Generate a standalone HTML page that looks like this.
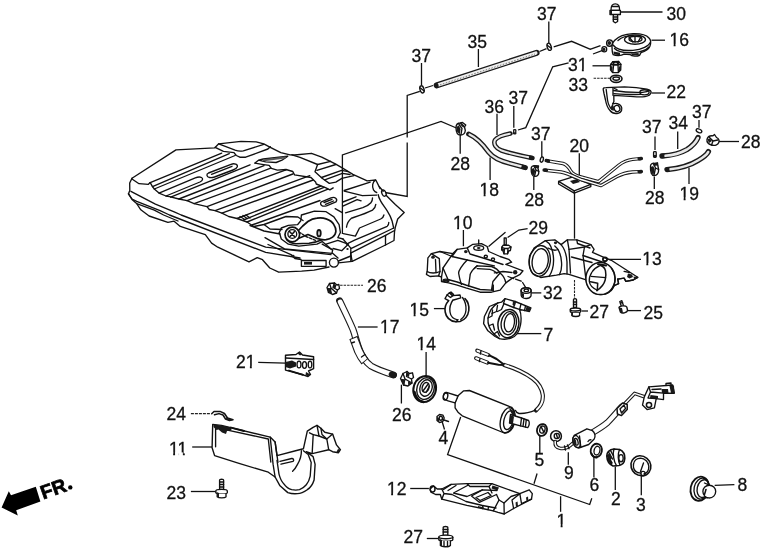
<!DOCTYPE html>
<html><head><meta charset="utf-8">
<style>
html,body{margin:0;padding:0;background:#fff;}
body{width:769px;height:554px;overflow:hidden;position:relative;}
svg{position:absolute;left:0;top:0;filter:grayscale(1) blur(0.35px);}
text{font-family:"Liberation Sans",sans-serif;font-size:17.5px;fill:#111;stroke:#111;stroke-width:0.3px;}
.l{stroke:#111;stroke-width:1.3;fill:none;}
.p{stroke:#111;stroke-width:1.35;fill:none;stroke-linejoin:round;stroke-linecap:round;}
.pw{stroke:#111;stroke-width:1.35;fill:#fff;stroke-linejoin:round;stroke-linecap:round;}
.d{stroke:#222;stroke-width:1;fill:none;stroke-dasharray:14 2 2 2;}
.dt{stroke:#222;stroke-width:1.1;fill:none;stroke-dasharray:2.5 1;}
.k{fill:#1a1a1a;stroke:none;}
</style></head><body>
<svg width="769" height="554" viewBox="0 0 769 554">
<!--LABELS-->
<g id="labels">
<text x="666.5" y="19.5">30</text>
<text x="669.5" y="46">16</text>
<text x="666.5" y="97.5">22</text>
<text x="568" y="71">31</text>
<text x="568.5" y="90.5">33</text>
<text x="537" y="19.5">37</text>
<text x="467.5" y="48">35</text>
<text x="411.5" y="61.5">37</text>
<text x="484.5" y="112.5">36</text>
<text x="508.5" y="103.5">37</text>
<text x="531" y="139.5">37</text>
<text x="569.5" y="151.5">20</text>
<text x="450.5" y="169.5">28</text>
<text x="479.5" y="196">18</text>
<text x="524.5" y="206">28</text>
<text x="642" y="133">37</text>
<text x="668.5" y="128.7">34</text>
<text x="692" y="118">37</text>
<text x="741" y="147.5">28</text>
<text x="645" y="204">28</text>
<text x="679.5" y="199.5">19</text>
<text x="453" y="229">10</text>
<text x="528.5" y="233.5">29</text>
<text x="642.2" y="265">13</text>
<text x="543" y="298.5">32</text>
<text x="589.5" y="317.5">27</text>
<text x="643.5" y="318.5">25</text>
<text x="409.5" y="316">15</text>
<text x="543.5" y="341">7</text>
<text x="367" y="291.5">26</text>
<text x="380" y="332.5">17</text>
<text x="416.5" y="350">14</text>
<text x="236" y="368">21</text>
<text x="392" y="420.5">26</text>
<text x="438.5" y="444">4</text>
<text x="166.5" y="420">24</text>
<text x="169" y="454.5">11</text>
<text x="166.5" y="498.5">23</text>
<text x="387" y="495">12</text>
<text x="403.5" y="543">27</text>
<text x="534.5" y="466">5</text>
<text x="564" y="479">9</text>
<text x="589.5" y="491">6</text>
<text x="611" y="505">2</text>
<text x="636" y="510.5">3</text>
<text x="737.5" y="491">8</text>
<text x="556.5" y="526.5">1</text>
</g>
<g id="footmask" fill="#fff" stroke="none">
<rect x="669.80" y="43.90" width="3.85" height="3.8"/>
<rect x="675.55" y="43.90" width="3.6" height="3.8"/>
<rect x="578.03" y="68.90" width="3.85" height="3.8"/>
<rect x="583.78" y="68.90" width="3.6" height="3.8"/>
<rect x="479.80" y="193.90" width="3.85" height="3.8"/>
<rect x="485.55" y="193.90" width="3.6" height="3.8"/>
<rect x="679.80" y="197.40" width="3.85" height="3.8"/>
<rect x="685.55" y="197.40" width="3.6" height="3.8"/>
<rect x="453.30" y="226.90" width="3.85" height="3.8"/>
<rect x="459.05" y="226.90" width="3.6" height="3.8"/>
<rect x="642.50" y="262.90" width="3.85" height="3.8"/>
<rect x="648.25" y="262.90" width="3.6" height="3.8"/>
<rect x="409.80" y="313.90" width="3.85" height="3.8"/>
<rect x="415.55" y="313.90" width="3.6" height="3.8"/>
<rect x="380.30" y="330.40" width="3.85" height="3.8"/>
<rect x="386.05" y="330.40" width="3.6" height="3.8"/>
<rect x="416.80" y="347.90" width="3.85" height="3.8"/>
<rect x="422.55" y="347.90" width="3.6" height="3.8"/>
<rect x="246.03" y="365.90" width="3.85" height="3.8"/>
<rect x="251.78" y="365.90" width="3.6" height="3.8"/>
<rect x="169.30" y="452.40" width="3.85" height="3.8"/>
<rect x="175.05" y="452.40" width="3.6" height="3.8"/>
<rect x="179.03" y="452.40" width="3.85" height="3.8"/>
<rect x="184.78" y="452.40" width="3.6" height="3.8"/>
<rect x="387.30" y="492.90" width="3.85" height="3.8"/>
<rect x="393.05" y="492.90" width="3.6" height="3.8"/>
<rect x="556.80" y="524.40" width="3.85" height="3.8"/>
<rect x="562.55" y="524.40" width="3.6" height="3.8"/>
</g>
<!--LEADERS-->
<g id="leaders" class="l">
<path d="M620 12H662.5"/>
<path d="M651.5 40.2H665"/>
<path d="M592.5 65.8H610"/>
<path d="M651.5 93H665"/>
<path d="M548.8 21.5V43.5"/>
<path d="M478.4 49V67"/>
<path d="M421.5 63V85"/>
<path d="M497 113.7V135"/>
<path d="M513.8 106V127.8"/>
<path d="M541.8 141.2V157"/>
<path d="M579.3 153.3V179.3"/>
<path d="M460.2 135V153.7"/>
<path d="M490.1 157.4V180"/>
<path d="M533.8 176.2V190"/>
<path d="M655 136.4V150"/>
<path d="M677.7 131.4V149"/>
<path d="M699 120V127.7"/>
<path d="M719 141.5H739"/>
<path d="M654.3 176.6V189"/>
<path d="M689 167.8V184"/>
<path d="M463.4 230V246.2"/>
<path d="M527.6 228.7L518.8 230L507.6 237.5"/>
<path d="M607.4 259.4H641"/>
<path d="M531.3 292.9H541.3"/>
<path d="M581.5 311H588"/>
<path d="M627.4 310.6H641"/>
<path d="M433.9 308.6H445.2"/>
<path d="M513.8 333.6H541.3"/>
<path d="M357.9 327H377.6"/>
<path d="M426.1 352V377"/>
<path d="M258.2 362.3L285.5 363.1"/>
<path d="M401.4 384.7V403.5"/>
<path d="M441.5 419.5L444.5 429.5"/>
<path d="M192.2 447H212"/>
<path d="M190.9 491.5H215.7"/>
<path d="M410.2 488.5H428.9"/>
<path d="M426.8 538.5H438.3"/>
<path d="M539.8 435.5V453.2"/>
<path d="M568.3 452.2V464.7"/>
<path d="M593.9 456.5V477.5"/>
<path d="M615.3 466.5V490"/>
<path d="M641.3 475.4V495.2"/>
<path d="M714.7 485.3L734.4 484.7"/>
<path d="M560.6 496.2V511.8"/>
<path d="M460.7 417L447.6 454.6L589.7 504.5L591.8 498.3"/>
<path d="M534 483.7L537.1 473.5"/>
</g>
<g class="dt">
<path d="M593.6 78.3H610"/>
<path d="M340.1 285.3H363"/>
<path d="M190.9 413.6H210.7" style="stroke-dasharray:3 1;stroke:#222"/>
</g>
<!--PARTS-->
<!--B:g1-->
<g id="g1">
<!-- bolt 30 -->
<path class="pw" d="M611 10.5C610.8 6 612.5 3.8 615.3 3.8C618.2 3.8 619.8 6 619.6 10.5Z"/>
<path class="pw" d="M610 10.3H620.4V14.5H610Z"/>
<path class="pw" d="M613.3 14.6H617.6V21.5L615.5 22.8L613.3 21.5Z"/>
<path class="p" d="M613.3 17H617.6M613.3 19.2H617.6M612.5 6.5H618.5"/>
<rect class="k" x="610" y="11" width="2" height="3.5"/>
<!-- lines into 16 -->
<path class="l" d="M553.7 46.9L571.6 41.3L590.5 49.3"/>
<path class="l" d="M590 49.4L600.5 45.7M593 54L602.6 50.3"/>
<!-- part 16 -->
<ellipse class="pw" cx="604.3" cy="49.2" rx="2.4" ry="2.6"/>
<ellipse class="pw" cx="609.6" cy="43" rx="3" ry="3.2"/>
<ellipse class="k" cx="604" cy="49.4" rx="1.4" ry="1.6"/>
<ellipse class="k" cx="609.3" cy="43" rx="1.8" ry="2"/>
<path class="pw" d="M612 46C612 50 612.3 53 613.2 54.6C616 56 621 56 624 54.2L630 54.6C632 56.5 637 56.6 639.5 55.4L641 52.6C645 51.5 648.5 49.5 649.8 46.5C651.2 43 651 40 649 38C646 34.5 640 33.4 633 33.6C625 34 618 36.8 614.5 40.5C612.8 42.3 612 44 612 46Z"/>
<path class="p" d="M613 45C616 49 624 51 633 50.3C642 49.6 649 46 650.5 42"/>
<path class="p" d="M614.5 48.5C618 52 626 53.2 634 52.6C641 52 646.5 49.8 649 47"/>
<ellipse class="p" cx="635" cy="39.6" rx="10.5" ry="4.6"/>
<ellipse class="p" cx="635.5" cy="39" rx="6.5" ry="2.8"/>
<path class="p" d="M629 37L633 42M641 36.8L638 42M635 36.5V42"/>
<path class="p" d="M618 40.5C622 37 628 35.5 633 35.4"/>
<path class="k" d="M613.5 51.5L620 52.8L620 55.2L614 54.6Z"/>
<path class="k" d="M631 53.4L638.5 53L639 55.2L632 55.6Z"/>
<!-- nut 31 -->
<path class="pw" d="M610.6 64.5L612.8 61.6L618.6 61.4L620.9 64.3L620.7 70L618.3 72.6L612.6 72.6L610.5 69.8Z"/>
<path class="p" d="M612.8 61.6L613.6 65L618 65L618.6 61.4M613.6 65L612.8 72.4M618 65L618.4 72.4M610.6 64.5L613.6 65M620.9 64.3L618 65"/>
<ellipse class="p" cx="615.7" cy="63.2" rx="2.2" ry="1.2"/>
<path class="k" d="M610.6 66L612.6 66.5L612.4 72L610.6 69.8Z"/>
<path class="k" d="M619 66.5L620.8 66L620.6 70L618.9 72Z"/>
<!-- washer 33 -->
<ellipse class="pw" cx="616.2" cy="78.8" rx="5.8" ry="3.6" style="stroke-width:1.6"/>
<ellipse class="p" cx="616.2" cy="78.6" rx="3.3" ry="1.6" style="stroke-width:1.4"/>
<!-- bracket 22 -->
<path class="pw" d="M603.2 89.3C603 88 604.5 87.6 606 87.6L624.5 86.9C633 87.2 642 88.3 647 89.2C650 89.8 651.4 91.2 651 92.6C650.5 95 648.5 96 645 96.6C640 97.4 636 96.8 630 96.4L613.8 95.4L613.9 101.5L612.5 104.2C615.5 102.5 619.5 103.5 621.2 106.3C622.8 109.2 621.5 112.6 618 113.3C614.5 114 611.5 112.5 610 110.5C607.5 108 606.2 104 605.5 100L604 93.5Z"/>
<path class="p" d="M606.2 89.5L607.5 100C608.2 104 609.5 107 611.5 109"/>
<path class="p" d="M613.5 90.5C622 91.8 634 92.6 642.5 92.3C646.5 92 648.5 91.2 649.5 90.5"/>
<path class="p" d="M613.8 93.6C622 94.2 634 94.8 641 94.4"/>
<ellipse class="p" cx="644.5" cy="92.3" rx="4.6" ry="2.6"/>
<path class="p" d="M613 88V95.3M614.5 88.5L617 89.6"/>
<ellipse class="p" cx="617" cy="108.5" rx="2.8" ry="3.2" transform="rotate(-30 617 108.5)"/>
<path class="k" d="M612.5 104.5C614 106 614.5 109 613.5 111L611 109.5C610.5 107.5 611 105.5 612.5 104.5Z"/>
</g>
<!--E:g1-->
<!--B:g2-->
<g id="g2">
<!-- dash-dot lines -->
<path class="l" d="M419.8 91.3L407.2 95.5V137.5M407.2 142.5V196.4L385 192.5"/>
<path class="l" d="M425 88L433 85.5"/>
<path class="l" d="M539.5 51.5L546.5 48.6"/>
<path class="l" d="M568.6 62.8L552.7 66.8L525.8 127.6L518 130"/>
<path class="l" d="M456.4 128L441 121.5L342.4 155V234"/>
<!-- tube 35 -->
<path d="M436.6 85.4L536.6 52.8" stroke="#1a1a1a" stroke-width="6" stroke-linecap="round" fill="none"/>
<path d="M438.4 84.9L535.8 53.1" stroke="#eee" stroke-width="3.4" stroke-linecap="round" fill="none"/>
<path d="M440 84.9L535 54" stroke="#666" stroke-width="0.9" stroke-dasharray="1.5 1.5" fill="none"/>
<ellipse class="k" cx="436.8" cy="85.4" rx="1.8" ry="2.6" transform="rotate(-18 436.8 85.4)"/>
<!-- clips 37 top -->
<ellipse class="pw" cx="549.2" cy="46.8" rx="2" ry="3.7" transform="rotate(-18 549.2 46.8)"/>
<ellipse class="pw" cx="422" cy="89.4" rx="2" ry="3.7" transform="rotate(-18 422 89.4)"/>
<path class="p" d="M547.6 45.5L550.8 48M420.4 88L423.6 90.6"/>
<!-- hose 18 -->
<path id="h18" d="M468.6 134C476.5 137.5 482 143 488.5 152C493 158 500 161 510.6 163.6L525.4 167.6" stroke="#1a1a1a" stroke-width="5" stroke-linecap="round" fill="none"/>
<path d="M469.5 134.5C476.5 137.8 482 143 488.5 152C493 158 500 161 510.6 163.6L521 166.4" stroke="#e8e8e8" stroke-width="2.2" stroke-linecap="round" fill="none"/>
<path d="M521.5 166.6L525.6 167.7" stroke="#1a1a1a" stroke-width="4.4" fill="none"/>
<!-- hose 36 -->
<path d="M510.4 133.5C503 135 497.5 136.5 495 140C493 144 496 148.5 501.5 150.5C510 153.5 520 155.5 532.4 158" stroke="#1a1a1a" stroke-width="4.6" stroke-linecap="round" fill="none"/>
<path d="M509.8 133.7C503 135 497.5 136.5 495 140C493 144 496 148.5 501.5 150.5C510 153.5 520 155.5 528.6 157.2" stroke="#e8e8e8" stroke-width="2" stroke-linecap="round" fill="none"/>
<path d="M529 157.3L532.6 158" stroke="#1a1a1a" stroke-width="4" fill="none"/>
<!-- clip 37 mid (small) -->
<rect class="k" x="513" y="129" width="3.4" height="5.4" rx="1.2"/>
<rect x="514" y="130.3" width="1.2" height="2" fill="#aaa"/>
<ellipse class="pw" cx="541.8" cy="159.6" rx="1.5" ry="2.7" transform="rotate(15 541.8 159.6)"/>
<!-- clip 28 left -->
<path class="pw" d="M456 127.5C456 124.5 458 123 460.5 123L462.5 122.5L465.8 125L464.5 127L465.3 130.5C465 133.5 463 135 460.5 135C457.5 135 456 132 456 127.5Z"/>
<path class="p" d="M460.5 123L463.5 126.5L464.5 127M459 124.5L462 128.5L461 134.5"/>
<path class="k" d="M461 123L464.5 125.5L463.5 127.5L460.5 125Z"/><path class="k" d="M456.3 127L458.8 125.5L460.6 129L459.8 134.2L457.2 132Z"/>
<!-- clip 28 mid -->
<path class="pw" d="M531.2 168.5C531 166.5 533 165.5 535 165.6L538.5 166L538 168.5L538.8 171.5C539 174.5 537.5 176.4 535 176.4C532.5 176.4 531 174 531.2 168.5Z"/>
<path class="p" d="M534 166L536 170L534.5 176M536 170L538.8 171.5"/>
<path class="k" d="M533.5 165.6L538.5 166L537.8 168.5L534 167.8Z"/><path class="k" d="M531.4 169L533.8 168L535.2 171L534.2 175.8L532 174Z"/>
<!-- tubes 20 -->
<g fill="none" stroke-linecap="round" stroke-linejoin="round">
<path d="M558.6 181.4L572.2 177.2L590.8 184.4L574.2 190.8Z" class="pw"/>
<path d="M558.6 181.4V184L574.2 193.2L590.8 186.6V184.4M574.2 190.8V193.2" class="p"/>
<path d="M547.5 160.8L563 163.5C567 164.5 568.5 167 570.5 170.5C572.5 174 576 175.6 581 177L598.5 181.6L619 165C623 162 628 160 632.5 159.4L640.5 158.6" stroke="#1a1a1a" stroke-width="3.4"/>
<path d="M549.5 161.2L563 163.5C567 164.5 568.5 167 570.5 170.5C572.5 174 576 175.6 581 177L598.5 181.6L619 165C623 162 628 160 632.5 159.4L638.6 158.8" stroke="#fff" stroke-width="1.4"/>
<path d="M545.4 170.2L561 172C568 173.5 574 176.5 581 179.5L601 185.6L617 176.5C622 173.8 628 172.4 632.5 172L640.5 171.6" stroke="#1a1a1a" stroke-width="3.4"/>
<path d="M547.4 170.5L561 172C568 173.5 574 176.5 581 179.5L601 185.6L617 176.5C622 173.8 628 172.4 632.5 172L638.6 171.7" stroke="#fff" stroke-width="1.4"/>
<path d="M546.3 160.6L548.4 161M639.2 158.7L641.3 158.5M544.2 170L546.3 170.3M639.2 171.7L641.3 171.6" stroke="#1a1a1a" stroke-width="3.6"/>
</g>
<path class="k" d="M570 181L577 179L580 182L573 184Z"/>
<path class="l" d="M574.5 193V238.7"/>
<path class="dt" d="M574.5 280V298.5"/>
<!-- right clips/hoses -->
<rect class="pw" x="653.6" y="151.6" width="2.6" height="5.8" rx="0.8"/>
<rect class="k" x="653.8" y="155" width="2.4" height="2.4"/>
<path d="M662 156C671 155.5 680 153.5 687 149.5C692.5 146 696 142.5 698 137.6" stroke="#1a1a1a" stroke-width="5.4" stroke-linecap="round" fill="none"/>
<path d="M665 155.8C672 155.3 680 153.5 687 149.5C692.5 146 696 142.5 697.9 138" stroke="#e8e8e8" stroke-width="2.6" stroke-linecap="round" fill="none"/>
<path d="M661.4 156L664.4 155.9" stroke="#1a1a1a" stroke-width="4.6" fill="none"/>
<path d="M667 169.6C678 168.5 690 165.5 698 160.5C704 157 707 154.5 708.4 151.6" stroke="#1a1a1a" stroke-width="5.4" stroke-linecap="round" fill="none"/>
<path d="M670 169.3C679 168.3 690 165.5 698 160.5C704 157 707 154.5 708.2 152" stroke="#e8e8e8" stroke-width="2.6" stroke-linecap="round" fill="none"/>
<path d="M666.4 169.7L669.4 169.4" stroke="#1a1a1a" stroke-width="4.6" fill="none"/>
<ellipse class="pw" cx="699" cy="130.8" rx="3" ry="1.7" transform="rotate(25 699 130.8)"/>
<!-- clip 28 right -->
<path class="pw" d="M707 139.5C707.5 137 710 135.5 713 135.8L714.5 134.5L716.5 137.5C718.5 138.5 719.5 140.5 718.8 142.5C718 145 714.5 146 711.5 145C708.5 144 706.6 142 707 139.5Z"/>
<path class="p" d="M709.5 137.5L713 141L717.8 140M713 141L711.5 145"/>
<path class="k" d="M707.3 139L710 138.5L712 141L709 143Z"/>
<!-- clip 28 bottom right -->
<path class="pw" d="M650.5 166C650.5 164 652.5 163 654.5 163.3L657.5 162.8L657.8 165.5L658.6 169.5C658.8 173 657 175.6 654.3 175.6C651.6 175.6 650.2 172.5 650.5 166Z"/>
<path class="p" d="M653.5 163.5L655.5 168L654 175M655.5 168L658.6 169.5"/>
<path class="k" d="M652.5 163.2L657.5 162.8L657.6 165.5L653.8 166Z"/><path class="k" d="M650.7 167L653.2 166L654.6 169L653.6 174.8L651.2 173Z"/>
</g>
<!--E:g2-->
<!--B:tank-->
<g id="tank" class="p">
<!-- outer silhouette -->
<path d="M132 178.2L176 149.9L214.6 147.9L218.7 143.8L241 141.4L256.2 141.8L263.8 143.8L270.3 147.3L280.8 152.6L290 154.9L294.5 155L311.5 153.3L321.7 157.1L335.3 163.9L342.2 167.9L352.9 174.3L367.2 180.8L375.8 180L380.1 188.6"/>
<path d="M386.3 195.4L395.3 204.4L404.2 212.5L397.7 219L395.3 227.2L394.5 232L394 240.5L385.5 245L352.2 261.3L338.5 262.8"/>
<path d="M329 267L314.1 270.1L301.6 271.1L278.7 272.2L269.8 268L262.5 259.7L257.3 257.6L249 261.8L217.8 247.2L211.6 243.1L205.3 234.7L199.1 232.7L180.3 226.4L174.1 221.2L167.9 222.3L149.1 216L140.8 209.8L136.6 203.5L132 199.4L128.4 194L129.8 190.5L129.7 183L132 178.2"/>
<!-- left corner top edge -->
<path d="M132 179L139 183.7L148.4 184.3L150.2 182.6"/>
<!-- flange lines -->
<path d="M130.9 191.3L155.4 204.2L174.2 211.8L181.2 215L265.7 247.2L331 254.6"/>
<path d="M128.5 193.7L132 199L136.7 201.3L160.1 210.7L169.5 215L265.7 252.4L300 258"/>
<path d="M136.7 203.6L154.3 210.1L163.6 215L178 221"/>
<!-- raised block -->
<path d="M218.7 143.8L235.1 150.2C238 151.2 240.5 151.4 243.3 150.8L263.8 144.4"/>
<path d="M215.2 147.3L223.4 151.4L234 152.6L236.3 155.5L239.8 157.2L245.7 157.2L267.9 149L270.3 146.7"/>
<!-- ribs -->
<path d="M150.2 182.6L221.7 153.1"/>
<path d="M152.5 186.7L229.3 153.7"/>
<path d="M154.3 189L235.1 155.5"/>
<path d="M159 193.1L195.3 177.9C198 176.8 200 176.8 201.5 177.5C203.2 178.5 203 180.5 199.9 182L166 196"/>
<path d="M170.7 197.2L250 164.8"/>
<path d="M178.9 199L264 165.6"/>
<path d="M187.1 200.7L270.7 168.1"/>
<path d="M194.1 203.6L286 169.8"/>
<path d="M207 206.6L292.8 174"/>
<path d="M215.1 210.6L309.8 175.7"/>
<path d="M221.9 213.1L313.2 180"/>
<path d="M237.1 218.5L320.8 186"/>
<path d="M243.6 220L324 187.3"/>
<path d="M247 222L328 189.2"/>
<path d="M252 225L320 200.5"/>
<!-- slots -->
<path d="M208.5 173L231 164.3C234.5 163 238 164.5 237.3 166.8C236.8 168.3 235 169.2 233 170L214.5 177C211 178.2 207.5 177.6 207 175.6C206.7 174.4 207.3 173.5 208.5 173Z"/>
<path d="M211.5 174.3L232 166.3"/>
<path d="M321.5 201.8L331 197.8C335 196.5 338 199 336 201.8L326.5 205.8C322 207.2 319 204 321.5 201.8Z"/><path d="M324 202.5L332 199.3M325.5 204.3L333.5 201"/>
<!-- near edge zigzag -->
<path d="M150.2 182.6L152.5 186.7L154.3 189L159 193.1L166 196L169.5 196.6L178.9 199L187.1 200.7L194.1 203.6L207 206.6L209.3 209.5L215.1 210.6L221.9 213.1L228.7 216.5L237.1 218.5L247 222L253.8 226.5L264 224.5L286 216.5L297.9 217L303 220.5"/>
<!-- far wavy edge + pocket -->
<path d="M255 163.1L258.5 160.2L263.2 159L287.8 156.1L282 160.2L276.1 162.5L265.6 161.9L258.5 160.2"/>
<path d="M264 160.3L285 157.6" style="stroke-width:2;stroke:#555"/>
<path d="M255 163.1L262 164.3L269.1 165.4L271.4 168.4L277.3 170.1L286 169.5L292.8 171.5L294.5 174.9L311 177.5L315.6 182.1L316.3 184L326 187.9L329.9 189.9L333.2 187.9"/>
<!-- right section ribs -->
<path d="M292 154.8L300 157.4L317.6 164.5L315 171.7L322.1 178.2L329.3 183.4L335.8 182.1L342.3 178.2"/>
<path d="M317.6 164.5L330.6 161.3"/>
<path d="M316.9 170.4L335.8 164.5"/>
<path d="M321.5 177.5L341.6 170.4L348.1 171.7"/>
<path d="M324.7 179.8L342.3 173.4L350 174.5"/>
<path d="M342.9 178.2L354 175.6"/>
<path d="M344.2 190.5L370.2 182.1"/>
<path d="M344.2 191.2L362.4 195.7L376.7 195.1"/>
<!-- right end cap/nozzle -->
<path d="M375.4 180.1C372.5 182 371.8 186.5 373.5 189.9C374.5 191.5 375.8 192.3 376.7 192.5"/>
<path d="M379.3 186.6L383.2 191.2"/>
<ellipse cx="383.9" cy="193.1" rx="2" ry="3.2" transform="rotate(-25 383.9 193.1)"/>
<path d="M378.2 194.6C378.5 197 379.5 199 380.7 201.1C382.5 204.5 385 207.5 387.2 210.9C389.5 214.5 391 217.5 392 220.7L393.7 228"/>
<path d="M342.9 206.1L357.2 199.6L361.1 200.9"/>
<path d="M342.9 202L356 196.8"/>
<path d="M372.5 197.9C372.5 200 372 201.5 370.9 202.8C369 205 366 206.5 362.8 207.6L345.5 212.8"/>
<path d="M375.8 204.4C375.5 207 374.5 208.8 372.5 210.1C366 213.5 358 216 351.4 218.2C348.5 220.5 347 223.5 346.5 227.2"/>
<path d="M383.9 215C383.5 217 382.5 218.2 380.7 219L359.5 228L355.4 236.1L343.3 233.7"/>
<path d="M388.8 222.3C388.8 224.5 388.3 225.6 387.2 226.3L354.6 240.2L346.5 244.2"/>
<path d="M393.7 228L351.4 248.3"/>
<path d="M335.1 208.7L342.3 212.6"/>
<path d="M385.5 235.3V245"/>
<path d="M350.6 253.2L385.5 235.3L394.5 230.5"/>
<path d="M350.6 253.2L352.2 261.3"/>
<!-- pump opening area -->
<circle cx="292.3" cy="234.5" r="7.3" style="stroke-width:1.7"/>
<circle cx="292.3" cy="234" r="4.4"/>
<path d="M289.5 231.5L294.5 236.5M290 236.5L294.5 231.5" style="stroke-width:1.6"/>
<path d="M298.5 230.5L302.7 226L307.9 221.5C311 219.5 314 218.5 317 218.2C320 217.8 323.5 218 326.1 218.9C329.5 220 332.5 222 333.9 224.7C335.3 226.8 336 229 335.9 231.2C335.7 233.5 334.5 235.8 332.6 237.1C330.8 238.5 328.5 239.4 326.1 239.7C323 240 320 239.5 317 238.4L307.9 234.5L299.5 238" style="stroke-width:1.7"/>
<path d="M286.5 239.5C288.5 242 292 243.5 296 243.8L309 243.2C315 242.5 319.5 241 322.2 239.8" style="stroke-width:1.6"/>
<path d="M279.3 232.5L281.3 228L288.4 225.4L297.5 224.7L300.8 220.8L301.4 215L314.4 211.1L326.1 211.7L333.9 216.9L339.1 224.7L340.4 232.5L337.8 237.7L343 239"/>
<path d="M279.3 232.5L281.3 239L288.4 244.2L298.8 246.2L317 244.2L322.2 241.6L330 248.1L332.6 250"/>
<ellipse cx="319" cy="233.2" rx="1.7" ry="3.2" style="stroke-width:1.9"/>
<path d="M299 232L306 236.5L316 240.5" style="stroke-dasharray:2.5 1.5"/>
<path d="M265 237.7L284.5 248.8L332 253.3L332.6 250L322.2 244.2"/>
<path d="M268 244.5L291 254.6L294.9 258.5L301 259.5"/>
<path d="M326.1 244.2L337.8 240.3L348.2 244.2L341.7 250.7L333 248.5"/>
<path d="M343 239L350.8 248.1"/>
<path d="M350.8 248.1V261.1"/>
<ellipse class="k" cx="293" cy="256" rx="1.6" ry="1.3"/>
<ellipse class="k" cx="347.5" cy="249" rx="1.2" ry="1"/>
<circle cx="333.9" cy="262.6" r="4.5"/>
<path d="M301.4 260.5H326.1V266.3H301.4Z"/>
<path class="k" d="M304 261.8H312V264.6H304Z"/>
<path d="M338.5 261L350.8 256"/>
<path d="M332.6 253.3L338 258"/>
<!-- "hatch" mark -->
<path d="M240 216.5L244 219M243 215.5L247 218.5M246 215L250 218" style="stroke-width:1.3"/>
<!-- front wall lower contour -->
<path d="M250 225.5L264 231L280 234"/>
<path d="M264 224.5L270 229L282 229.5"/>
</g>
<!--E:tank-->
<!--B:p10-->
<g id="p10" class="p">
<path class="pw" d="M427.9 257.9L431.4 253.6L440 251.5L452.9 253.6L457.2 249.3L467.2 247.9L472.9 244.3L481.5 243.6L487.2 246.5L488.7 251.5L500.1 256.5L508.7 259.3L511.6 262.2L505.8 264.3L523 270.8L520.1 274.3L517.3 275.8L511.6 278.6L505.8 282.9L500.1 290.1L491.5 292.2L480.1 292.2L465.8 287.9L457.2 285.1L448.6 282.9L441.5 281.5L441.5 277.2L438.6 275.8L430 276.5L426.4 274.3L427.2 271.5Z"/>
<!-- left elbow -->
<path d="M431.4 253.6L439.3 258.6L440 271.5L438.6 275.8"/>
<path d="M427.2 271.5C430 273.5 436 273.5 440 271.5"/>
<path d="M435.5 259.5L436 272.5"/>
<ellipse class="k" cx="433" cy="257.2" rx="1.8" ry="1.6"/>
<!-- body lines -->
<path d="M452.9 253.6L443 268L441.5 277.2"/>
<path d="M440 251.5L452 256.5L467.2 260L494.4 265.8"/>
<path d="M467.2 260C462 265 458.5 271 458.6 273C459.5 278 460.5 282 461.5 284.4"/>
<path d="M477.2 265.8C472 270 470 273 470 276C469.5 280 469 283 468.6 286"/>
<path d="M474.4 268.6L477.2 265.8L491.5 266.5C496 268 499 271 500.1 273L492.9 281.5L491.5 290.1"/>
<path d="M477.2 268.6L490 269.3C494 270.5 496 272 497 273.5"/>
<path d="M494.4 272.9L503 271.5L512 272.5"/>
<path d="M500.1 273C503 275.5 505 278 505.8 282.9"/>
<path d="M452 256.5L457.2 249.3"/>
<path d="M443 268L448 279.5L457.2 282L465.8 285L480.1 289.5L491.5 290.1"/>
<!-- top mount -->
<ellipse cx="478.7" cy="247.9" rx="5" ry="2.3"/>
<ellipse class="k" cx="478.7" cy="247.9" rx="1.8" ry="1"/>
<ellipse class="k" cx="465.8" cy="251.6" rx="1.8" ry="1.7"/>
<ellipse cx="485.8" cy="256.5" rx="1.6" ry="1.3"/>
<ellipse cx="493" cy="259.3" rx="1.6" ry="1.3"/>
<path d="M478.7 240V244"/>
<path d="M467.2 247.9L470 254L488 259.5L503 264.5"/>
<ellipse class="k" cx="515.2" cy="272.2" rx="2.2" ry="2.2"/>
<rect class="k" x="492" y="284.5" width="2" height="6.5"/>
<ellipse cx="446" cy="280.5" rx="3" ry="1.4"/>
<path class="k" d="M443.5 279.5H448.5V281H443.5Z"/>
<!-- dash lines -->
<path class="l" d="M505.1 232.5L488.9 246.2"/>
<path class="l" d="M508 276.5L522 281.5L526 288" style="stroke-dasharray:6 2"/>
</g>
<!--E:p10-->
<!--B:p13-->
<g id="p13" class="p">
<path class="pw" d="M529.7 255.5L534.4 247.7L545.4 240.6L554.8 239.8L561.1 244.6L567.4 239.8L576.8 239.8L590.9 244.6L594.1 249.3L592.5 252.4L605.1 257.9L611.3 260.3L624.1 268.5L637.7 277.3L633.2 280L625.9 281.4L624.1 278.2L617.7 279.1L618.6 283.6L614.5 285.5C612 291 607 294.6 601 294.6C593 294.6 587 288 586.2 279.9L569 274.4L564.2 273.6L556.4 275.2L540.7 277.5L532.8 273.6C529.5 269 528.5 262 529.7 255.5Z"/>
<!-- left ring -->
<ellipse cx="540.2" cy="261.2" rx="8" ry="12.6" transform="rotate(8 540.2 261.2)"/>
<ellipse cx="539.8" cy="261" rx="10.5" ry="15.4" transform="rotate(8 539.8 261)"/>
<path d="M545.4 240.6C550 243 553 250 553.5 258C554 266 552 272 549 276.5"/>
<path d="M554.8 246C558.5 249 561 255 561.5 262C562 268 561 272 559.5 274.6"/>
<path d="M548 248C551.5 250 556 250.5 558 249.5"/>
<path d="M561.1 244.6C564 248 566.5 254 567 262L567 273.8"/>
<ellipse class="k" cx="555.5" cy="242.8" rx="1.6" ry="1.4"/>
<!-- middle body -->
<path d="M567.4 239.8L569 249.3L570.5 273"/>
<path d="M569 249.3L584.5 247L590.9 244.6"/>
<path d="M584.5 247L583 255.5L586 279.9"/>
<path d="M571.5 257L592 262.5"/>
<path d="M583 255.5L605.1 263"/>
<path d="M576.8 239.8L577.5 243.5L590 248"/>
<!-- right ring -->
<ellipse class="pw" cx="600.5" cy="278.6" rx="14.6" ry="16" style="stroke-width:1.5"/>
<path d="M599.5 265.9C596 267.5 593.5 269.5 592 272C590 275 589 278.5 589.3 281.5C589.8 285 592.5 288 596.8 290"/>
<path d="M600.5 265.5C603.5 266.5 605 268 605.5 271C606.2 274 606 277 605.2 280C604 284.5 601.5 287.5 596.8 290.6" style="stroke-width:1.5"/>
<path d="M591 276.4L605.6 277.7"/>
<path d="M590.5 281.8L597.7 283.2L597.3 290.5" style="stroke-width:1.5"/>
<path d="M611.4 268.2C613.5 271 614.6 274 615 278C615.2 282 614.5 286 611 290.5"/>
<path d="M598 264.2L606 265.5" style="stroke-width:2"/>
<ellipse cx="605" cy="259.2" rx="2.1" ry="1.9" style="stroke-width:1.8"/>
<!-- tab -->
<path d="M617.7 279.1L618.6 283.6L614.5 285.5"/>
<path d="M617.7 279.1L624.1 278.2L625.9 281.4L633.2 280L637.7 277.3"/>
<path d="M624.1 271.4L629.5 272.5" />
<path class="k" d="M628 273.5L632 274.5L633 277L629.5 278.5L627 277Z"/>
<path class="k" d="M633.5 276.5L637.7 277.3L634 279.8Z"/>
</g>
<g id="p29etc" class="p">
<!-- bolt 29 -->
<path class="pw" d="M504.2 238H506.2V245H504.2Z"/>
<path class="pw" d="M501.8 247.2L503.2 245.2H508.6L511 247L510.4 250.5L508.6 251L507.6 253.8H504L503 251L501.6 250Z"/>
<path d="M501.8 247.2L504.5 248.5H508L511 247M504.5 248.5L504 253.8M508 248.5L507.6 253.8"/>
<path class="k" d="M502 248L504 249L503.8 251.5L502 250Z"/>
<!-- nut 32 -->
<path class="pw" d="M521 290.5C521 288.5 523.5 287.5 526 287.6C529 287.7 531.2 289 531.2 291L531 296C530 298 528 298.6 526 298.5C523.5 298.4 521.5 297.5 521.2 295.5Z"/>
<ellipse cx="526.1" cy="290.6" rx="5" ry="2.8"/>
<ellipse cx="526.3" cy="290.4" rx="2.2" ry="1.2"/>
<path class="k" d="M521.2 292.5L524 294V298L521.4 296Z"/>
<!-- bolt 27 -->
<path class="pw" d="M573.5 299.5C573.5 298.4 576.5 298.4 576.5 299.5V307.5H573.5Z"/>
<path d="M573.5 302H576.5M573.5 304.5H576.5"/>
<path class="pw" d="M570.3 309.5C570.3 307.5 580.6 307.5 580.6 309.5V311.8C580.6 313 570.3 313 570.3 311.8Z"/>
<path class="pw" d="M571.8 312.8V315.5C573 316.8 578.5 316.8 579.6 315.5V312.8"/>
<path d="M570.3 310C572 311.3 579 311.3 580.6 310"/>
<path class="k" d="M570.5 311L573 312.2V316L571.8 315.4V312.6Z"/>
<!-- screw 25 -->
<path class="pw" d="M619.8 301.5L621.8 300.6L623.6 306L621.6 307Z"/>
<path class="pw" d="M619 307.5C619.5 305.8 625.5 305 626.8 307L627.6 310.5C627 312.8 622 313.8 620.4 312Z"/>
<path class="k" d="M619.2 307.6L622 308L623 312.8L620.4 312Z"/>
<path d="M620.5 303.2L622.6 302.4"/>
</g>
<!--E:p13-->
<!--B:p15_7-->
<g id="p15_7" class="p">
<!-- clamp 15 -->
<path d="M448.6 300.7C445.5 304 444.5 308 445.2 312C446 317 450 321 456 321.8L460 321.5C464.5 320 468 316 468.8 310.5C469.3 305.5 467.5 301 465 298.6" style="stroke-width:1.6"/>
<path d="M452.9 300C450.2 304 449.4 308 450 312C450.6 316.5 453.5 319 457.5 319.8"/>
<path d="M462.5 297.5C465 301 466.3 305 466 310C465.6 314.5 463.5 317.5 460.8 319.5"/>
<path d="M448.6 300.7L445 298.6L447 295L449.3 292.9L452.9 295.7L460 295L460.8 297.9L453.6 300"/>
<path d="M449.3 292.9L451 292L453.6 294.5M447 295L450.5 297.5L452.9 295.7"/>
<path class="k" d="M449.5 293.3L451.5 292.5L453 294.5L451.5 296Z"/>
<path d="M456 321.8L458 319.8"/>
<!-- part 7 -->
<path class="pw" d="M484.4 316.5L489.4 306.5L498 302.9L501.5 302.2L505.1 298.6L515.1 301.5L530.9 307.9L529.4 311.5L519.4 309.3C521 313 521.5 319 520.5 325C519.5 331 516 336.5 511 338.2C507 339.5 503 339.5 499.4 338.6L495.1 336.5L487.9 330.8L483.6 323.6Z"/>
<ellipse cx="508.4" cy="323.6" rx="10.4" ry="14.2" transform="rotate(8 508.4 323.6)" style="stroke-width:1.5"/>
<ellipse cx="508.8" cy="323.2" rx="7.6" ry="11.6" transform="rotate(8 508.8 323.2)"/>
<ellipse cx="509.4" cy="322.8" rx="5" ry="9.2" transform="rotate(8 509.4 322.8)"/>
<path d="M498 302.9C493 306 489 312 488 318C487.5 324 490 330 494 334L499.4 338.6"/>
<path d="M492.5 310L492 316L488 318"/>
<path d="M497.5 305.5L496.5 311.5L492 313.5"/>
<path d="M503.7 304.3L501.5 309.5L497.5 311.5"/>
<path d="M489.5 325.5L493 324L494.5 330"/>
<path d="M494 334L497.5 331.5L499.5 336"/>
<path d="M505.1 298.6L503.5 303.5L513.7 307.5L519.4 309.3"/>
<path d="M515.1 301.5L513.7 307.5M521 304L519.8 308.8M525.5 306L524.5 310.5"/>
<path class="k" d="M526.5 306.5L530.9 307.9L529.4 311.5L525.5 310.5Z"/>
<path class="k" d="M513 301L516 302L515 306L512.5 305Z"/>
</g>
<!--E:p15_7-->
<!--B:pump-->
<g id="hose17" class="p">
<!-- clamp 26 upper -->
<path class="pw" d="M327 287.5L329.5 283.5L334.5 283L337 285L338.8 284.5L339.5 288.5L337.5 290L336.5 293L332.5 294.5L328.5 292.5Z"/>
<path d="M329.5 283.5L331 288L336.5 293M334.5 283L333 287.5L337.5 290M331 288L328.5 292.5"/>
<path class="k" d="M327.2 287.8L330.8 288.3L332.3 294.3L328.5 292.5Z"/>
<path class="k" d="M333.5 284L336.5 285L335.5 288.5L333.2 287.5Z"/>
<!-- hose 17 -->
<path d="M339.6 300.8C344 310 349 320 353 329.5C355.5 336 356.5 343 359.5 350C362 356.5 365.5 362 371 366C377 369.5 386 372.5 393.5 375" stroke="#1a1a1a" stroke-width="7" stroke-linecap="round" fill="none"/>
<path d="M340.2 302C344 310 349 320 353 329.5C355.5 336 356.5 343 359.5 350C362 356.5 365.5 362 371 366C377 369.5 386 372.5 390.5 374" stroke="#fff" stroke-width="4.8" stroke-linecap="round" fill="none"/>
<path d="M353.4 337.5C355 341 356.5 346 358.5 351C360.5 355.5 362.5 358.5 365 361.5" stroke="#1a1a1a" stroke-width="9" fill="none" stroke-linecap="butt"/>
<path d="M353.8 338.5C355 341.5 356.5 346 358.5 351C360.5 355.5 362.5 358.5 364.4 360.8" stroke="#fff" stroke-width="6.8" fill="none" stroke-linecap="butt"/>
<path d="M391.5 374.3L394 375.2" stroke="#1a1a1a" stroke-width="5.6" fill="none"/>
<path d="M351.5 343L354.5 342M361.5 357L365 354.5"/>
<!-- clamp 26 lower -->
<path class="pw" d="M400.5 378.5L403 373.5L407 371.5L409.5 373.5L412.5 372.8L413.5 377.5L411.5 379L412 383L408 386L403.5 385Z"/>
<path d="M403 373.5L405 379L412 383M407 371.5L406.5 376.5L411.5 379M405 379L403.5 385"/>
<path class="k" d="M400.7 378.8L404.5 379.3L404.5 385.3L403.3 385Z"/>
<path class="k" d="M406.5 372.5L409.5 373.5L409 377L406.5 376Z"/>
<path class="k" d="M408 381L411.8 383.2L408.2 385.8Z"/>
</g>
<g id="pump" class="p">
<!-- ring 14 -->
<ellipse class="pw" cx="424.7" cy="389" rx="11.2" ry="13.2" transform="rotate(18 424.7 389)" style="stroke-width:2"/>
<ellipse cx="425.5" cy="388.6" rx="8.6" ry="11" transform="rotate(18 425.5 388.6)"/>
<ellipse cx="426" cy="388" rx="6" ry="8.4" transform="rotate(18 426 388)"/>
<ellipse cx="425.6" cy="387.4" rx="3.3" ry="5" transform="rotate(18 425.6 387.4)" style="stroke-width:1.5"/>
<path d="M423 391L428.5 383.5M426 392.5L429.5 386"/>
<path d="M414.5 392C415.5 397 419 401 423.5 402" style="stroke-width:2.4"/>
<!-- nut 4 -->
<path class="pw" d="M437 416.5L439.5 414.5L443 415.2L444.2 418L442.8 421.5L439.5 422.6L437 420.5Z"/>
<ellipse cx="440.8" cy="418.2" rx="1.6" ry="2"/>
<path class="k" d="M437 417L439 418L439.3 422.4L437 420.5Z"/>
<path d="M442.5 419.5L448.5 421.5"/>
<!-- pump body -->
<path class="pw" d="M463.7 390.8L469.4 390.5L511.7 407.4C515 410 516 417 514.5 423C513 429 509 433.5 504.2 433L462.2 415.8L458 412.2L455.1 407.9L455.1 402.2L458 395.8Z"/>
<ellipse cx="507.4" cy="420.2" rx="6.8" ry="12.8" transform="rotate(14 507.4 420.2)"/>
<ellipse cx="508.6" cy="420.2" rx="4.6" ry="9.6" transform="rotate(14 508.6 420.2)"/>
<path class="k" d="M509 408.5C512.5 409 515.5 413 515.5 417L512 414.5Z"/>
<!-- left nozzle -->
<path class="pw" d="M446.5 392.4L458 396L455.1 402.9L448 400.8C444.5 400 443 397.5 443.4 395.5C444 393 445.5 392.2 446.5 392.4Z"/>
<ellipse cx="445.5" cy="396.5" rx="2.2" ry="3.6" transform="rotate(15 445.5 396.5)"/>
<!-- right nozzle -->
<path class="pw" d="M510.5 414.5L521.5 418L528.6 420.5C529.8 422.5 529.3 426 527.8 427.6L520.5 425.8L509.5 423Z"/>
<path d="M521.5 418L520.5 425.8M524 418.8L523 426.4M526.3 419.7L525.4 427"/>
<path class="k" d="M510 415L514 416.5L513 423.5L509.5 423Z"/>
<!-- wires -->
<path d="M477.2 350.6L488.4 355" stroke="#1a1a1a" stroke-width="4" stroke-linecap="round" fill="none"/>
<path d="M477.4 350.7L488.2 354.9" stroke="#fff" stroke-width="2" stroke-linecap="round" fill="none"/>
<path d="M476 358.2L487.4 362.6" stroke="#1a1a1a" stroke-width="4" stroke-linecap="round" fill="none"/>
<path d="M476.2 358.3L487.2 362.5" stroke="#fff" stroke-width="2" stroke-linecap="round" fill="none"/>
<path d="M481 351L480.3 354M480 358.7L479.3 361.6"/>
<path d="M489 355.2L496.6 359L504.2 364.7M488 362.8L498.5 364.7L504.2 365" style="stroke-width:2"/>
<path d="M504.2 365C514 368 525 373 532.6 378.5C538.5 383 542 389 542.8 395C543.3 401 541 406 536 410.4" stroke="#1a1a1a" stroke-width="4.2" fill="none"/>
<path d="M505.2 365.3C514 368 525 373 532.6 378.5C538.5 383 542 389 542.8 395C543.3 401 541 406 537 409.5" stroke="#fff" stroke-width="2" fill="none"/>
<path d="M535.5 410.2C530 412.5 524 413.8 519 413.5C517 413 516 412 515.5 410.5"/>
<!-- nut 5 -->
<ellipse class="pw" cx="542" cy="430" rx="5" ry="6" transform="rotate(15 542 430)" style="stroke-width:1.8"/>
<ellipse cx="542.4" cy="429.6" rx="2.6" ry="3.6" transform="rotate(15 542.4 429.6)"/>
<path d="M541.5 427.5L543.5 431.5" style="stroke-width:1.5"/>
</g>
<!--E:pump-->
<!--B:p9-->
<g id="p9" class="p">
<!-- banjo ring -->
<circle class="pw" cx="556" cy="436.2" r="5.4" style="stroke-width:1.5"/>
<circle cx="556.8" cy="436" r="2.6"/>
<path d="M556.5 434.5L557.5 438" style="stroke-width:1.4"/>
<!-- curved pipe -->
<path d="M555.2 441.6C554.8 445 556.5 447.6 560 448.3C564 449 568.5 447.5 572.5 443.4" stroke="#1a1a1a" stroke-width="3.6" fill="none"/>
<path d="M555.2 441.6C554.8 445 556.5 447.6 560 448.3C564 449 568.5 447.5 572.5 443.4" stroke="#fff" stroke-width="1.5" fill="none"/>
<path d="M564.5 446L565.5 450M567.5 445L569 448.8"/>
<!-- hose big -->
<path d="M591 433.5C597 430 603 426.5 607.5 422.5C612 418 616.5 412.5 621.6 407" stroke="#1a1a1a" stroke-width="6.6" fill="none"/>
<path d="M591 433.5C597 430 603 426.5 607.5 422.5C612 418 616.5 412.5 621.6 407" stroke="#fff" stroke-width="4.4" fill="none"/>
<!-- thin tube -->
<path d="M624 404.5L634.5 393.4L645 397" stroke="#1a1a1a" stroke-width="3.6" fill="none" stroke-linejoin="round"/>
<path d="M624 404.5L634.5 393.4L645 397" stroke="#fff" stroke-width="1.5" fill="none" stroke-linejoin="round"/>
<!-- collar -->
<path class="pw" d="M617 408.5L622.5 403L627.2 404.5L627.2 409.5L621.5 415.6L617.4 414Z" style="stroke-width:1.5"/>
<path d="M620 409L624 405L625.5 408.5L621.5 413Z"/>
<!-- cylinder -->
<path class="pw" d="M574.2 435.4L586.9 428.8L592.4 430.6C595.5 433 595.5 437 594.2 439L588.7 444.5L578.7 448C575 447 573 444.5 572.8 441.5C572.6 438.5 573.2 436.5 574.2 435.4Z"/>
<ellipse cx="576.5" cy="441.6" rx="3.4" ry="6.2" transform="rotate(-15 576.5 441.6)"/>
<ellipse cx="576.2" cy="441.8" rx="1.8" ry="3.4" transform="rotate(-15 576.2 441.8)"/>
<path d="M579.5 436L580.8 447.2"/>
<path class="k" d="M572.5 440.5L576 440L576.5 444L573.5 445Z"/>
<path d="M588 441.5C589 440 590 439.5 591 439.8"/>
<!-- bracket -->
<path class="pw" d="M644.3 396.9L648.9 386.8L672.6 385L674.4 393.2L663.5 393.2L663.5 399.6L656.2 398.7L654.4 407.8L647.1 409.6L642.5 405.1Z"/>
<path d="M648.9 386.8L650.5 392L663.5 393.2M650.5 392L648 398L656.2 398.7M652 389.5L661 389"/>
<ellipse cx="649" cy="405" rx="2.6" ry="2.4" style="stroke-width:1.5"/>
<path class="k" d="M661.5 389H668L668.5 393H662Z"/>
<path class="k" d="M669.5 386L674 385.5L674.4 393.2L671 393Z"/>
<path class="k" d="M650.5 395L658 396L658 398.7L650 398Z"/>
<path d="M666 385.5V383.5L671 383V385"/>
<!-- nut 6 -->
<ellipse class="pw" cx="596.3" cy="450.5" rx="5.6" ry="6.8" transform="rotate(12 596.3 450.5)" style="stroke-width:1.8"/>
<ellipse cx="597" cy="450.6" rx="2.9" ry="4.4" transform="rotate(12 597 450.6)"/>
<path d="M591.5 453.5C592.5 456 594.5 457.5 596.5 457.6" style="stroke-width:2"/>
<!-- part 2 -->
<path class="pw" d="M606.8 456C606.5 452.5 609.5 449.5 614 449L619.5 449.5C623 451 625 454.5 624.8 458.5C624.5 462.5 622 465 619 465.5L613 466C609.5 464.5 607 461 606.8 456Z" style="stroke-width:1.6"/>
<path d="M614 449C612.5 453 613.5 461 616.5 465.6"/>
<path d="M619.5 449.5C617.5 454 618 461 620 465"/>
<ellipse cx="621" cy="458.2" rx="2.2" ry="3.6"/>
<path d="M608.5 452L612.5 459M607.5 455.5L612 463M610.5 450.5L613.5 456M608 459L611.5 464.5" style="stroke-width:1.5"/>
<path class="k" d="M607 455L610 453L612 458L609 462Z"/>
<!-- part 3 -->
<path class="pw" d="M631 463.5C631.5 459.5 635 456.2 639.5 455.8C645 455.6 650 459.5 650.8 465C651.5 470.5 648 475.5 643 476L638 475C633.5 473.5 630.5 469 631 463.5Z" style="stroke-width:1.6"/>
<path d="M633.5 464C634 460.5 637 458.2 640.5 458.2C645 458.5 648.5 462 648.8 466C649 470 647 473 644 474"/>
<path d="M643.5 463L640.5 471.5"/>
<path d="M633.5 464C633 467.5 634.5 471 637.5 472.5"/>
<circle cx="643" cy="473.5" r="2.1"/>
<path d="M637.5 472.5L640.8 473.2"/>
</g>
<!--E:p9-->
<!--B:p12-->
<g id="p12" class="p">
<path class="pw" d="M430.1 489L433.3 485.9L437.2 489L441.8 489L451.2 484.4L466.8 483.6L491.8 483.6L519.8 493.7L529.2 489.8L532.3 493.7L531.5 499.2L513.6 508.5L504.2 514L498 512.4L493.3 510.9L482.4 508.5L466.8 505.4L441.8 499.2L440.3 494.5L435.6 494.5L430.9 492.2Z"/>
<ellipse cx="432.6" cy="489" rx="2.4" ry="3" style="stroke-width:1.5"/>
<path d="M441.8 489L444 493.5L441.8 499.2M444 493.5L452 494.5L466 501.5L482.4 505.5L496 508"/>
<path d="M451.2 484.4L443.5 489.5M456 485.5L448 490.5"/>
<path d="M468.4 485L453.5 493L467 496.5L482.4 489.8L497 490.5"/>
<path d="M482.4 489.8L471.5 496L479.3 502.3L496.5 494.5"/>
<path d="M476 497.5L488 492.5L491 495.5L480 500.5Z"/>
<path d="M466.8 483.6L470 486.5L489 486.5L491.8 483.6"/>
<path class="k" d="M492.5 485.5L499 487.5L497.5 490.5L491.5 488.5Z"/>
<path d="M489 486.5L492 493"/>
<path d="M496.5 494.5L499 500L504 503L511 496.5L519.8 493.7"/>
<path d="M499 500L493.3 510.9M504 503L504.2 514"/>
<path d="M519.8 493.7L521.5 503.5L531.5 499.2"/>
<path d="M513.6 508.5L512 500L519.8 493.7"/>
<path class="k" d="M515.5 502.5L517.5 501.5L518 506L516 507Z"/>
<path class="k" d="M526 497.5L528 496.5L528.3 500L526.5 501Z"/>
<path d="M482.4 508.5L483 505.5M488 509.7L488.5 507"/>
<path class="k" d="M478 506L484 507.5L484 509L478 507.6Z"/>
</g>
<g id="bolts" class="p">
<!-- bolt 27 bottom -->
<path class="pw" d="M443.2 527.5C443.2 526.2 447.8 526.2 447.8 527.5V535.5H443.2Z"/>
<path d="M443.2 529.5H447.8M443.2 532H447.8"/>
<path class="pw" d="M438.8 537C438.8 534.5 452.8 534.5 452.8 537V539.8C452.8 541.6 438.8 541.6 438.8 539.8Z"/>
<path d="M438.8 537.5C441 539.2 450.5 539.2 452.8 537.5"/>
<path class="pw" d="M440.4 540.8V545.5C442 547.2 449 547.2 450.4 545.5V540.8"/>
<path class="k" d="M439 538.5L442 540V546.5L440.4 545.5V541Z"/>
<path d="M444 541.4V546.6M447.5 541.4V546.6"/>
<!-- bolt 23 -->
<path class="pw" d="M219.6 480C219.6 478.8 223.6 478.8 223.6 480V489.5H219.6Z"/>
<path d="M219.6 482H223.6M219.6 484.5H223.6M219.6 487H223.6"/>
<path class="pw" d="M215.8 491C215.8 488.8 227.3 488.8 227.3 491V492.8C227.3 494.3 215.8 494.3 215.8 492.8Z"/>
<path class="pw" d="M217.2 493.8V496.8C218.5 498.3 225 498.3 226 496.8V493.8"/>
<path class="k" d="M216 491.8L219 493V497.8L217.2 496.8V493.8Z"/>
</g>
<!--E:p12-->
<!--B:p11-->
<g id="p11" class="p">
<path class="pw" d="M212.7 424.4L221.5 425.4L270.2 437.1L275.1 441.9L277 455.6L295.6 450.7L303.4 448.8L307.3 431.2L313.1 427.3L317 425.4L320.9 428.3L324.8 432.2L332.6 434.1L336.5 444.9L340.4 449.7L338.5 452.7L332.6 451.7L328.7 449.7L312.2 453.6L306.3 451.7L313.1 456.6L315.1 464.4L314.1 480C312.5 485 310 488 307.3 489.7C304 492 301 493.5 297.5 493.6C293.5 494 290.5 493.5 287.8 492.6L280 485.8L275.1 477L268.3 472.2L239 463.4L214.6 455.6L212.1 447.8Z" style="stroke-width:1.4"/>
<path d="M215.6 426.3V446.8"/>
<path d="M219.5 428.3L268.3 439L270.8 462"/>
<path d="M270.2 437.1L273.1 464.4L275.1 477"/>
<path d="M275.1 441.9L278 462.4"/>
<path d="M277 460.5L279 474.1C280 478 281.5 481.5 283.9 483.9C286 487 289 489 291.7 489.7C294.5 490.3 297 490.3 299.5 489.7C302.5 488.5 304.5 487 306.3 484.8C308.5 482 309.6 479 310.2 476.1L311.2 462.4L308.2 454.6L303.4 450.7"/>
<path d="M280 461.4L291.7 458.5C293.5 458.3 294.3 460.5 293 461.4L281 464.2"/>
<path d="M301.4 450.7C301.5 456 299.5 461 297.5 464.4C296 467.5 294.5 469.5 292.6 471.2"/>
<path d="M309.5 432.8L313.2 434.6L312.2 452.7"/>
<path d="M317 425.4L319 436L326.8 439L328.7 449.7"/>
<path d="M313.2 434.6L319 436"/>
<path d="M320.9 428.3L322 434.5L326.8 439L332.6 434.1"/>
<path class="k" d="M338 449L340.4 449.7L338.5 452.7L336.5 451.8Z"/>
<path class="k" d="M213.5 424.6L221.5 425.4L231 427.6L231.5 430L227 431L226 434L222 432.5L218.5 429.5L216.5 430L213.5 427Z"/>
<path d="M231 427.6L244 431" style="stroke-width:2"/>
<!-- clip 24 -->
<path d="M211.7 413.7L214 411.5L220 411.4L224.5 413.5L227.5 418L233 419.8L229.5 420.5L225.5 419L223 415L219 413.6L214.5 414.8" style="stroke-width:1.5"/>
<path class="k" d="M226.5 416.5L229.5 419L233.2 419.8L229.5 420.8L226 419.3Z"/>
</g>
<g id="p21" class="p">
<path class="pw" d="M285.5 355.3L296 354.5L299.5 352L302.5 355L313.6 356.8L313.6 368.6L308.5 371L310.5 374.5L308 376.5L303 374.8L285.5 370.1Z" style="stroke-width:1.4"/>
<path d="M285.5 358L313.6 359.5"/>
<ellipse cx="299" cy="364.5" rx="2" ry="3.4"/>
<ellipse cx="304.5" cy="365" rx="2" ry="3.4"/>
<ellipse cx="310" cy="364.5" rx="1.8" ry="3.4"/>
<path class="k" d="M285.5 362L292 360.5L296 362.5L296 366.5L290 368.5L285.5 367Z"/>
<path class="k" d="M297.5 353.5L299.5 352L302 354.5L300 355.5Z"/>
<path d="M289 370.5L303 374.8" style="stroke-width:1.8"/>
<path class="k" d="M306 372L310.5 374.5L308 376.5L305.5 375Z"/>
</g>
<g id="p8" class="p">
<ellipse class="pw" cx="699.8" cy="488.8" rx="9.2" ry="12.2" transform="rotate(12 699.8 488.8)" style="stroke-width:1.8"/>
<ellipse cx="701.5" cy="488.6" rx="7.4" ry="10.6" transform="rotate(12 701.5 488.6)"/>
<ellipse cx="703.2" cy="488.6" rx="6" ry="9" transform="rotate(12 703.2 488.6)"/>
<circle class="pw" cx="709.3" cy="491.6" r="6.4"/>
<path d="M704.5 483L709.3 485.2"/>
<path d="M704 497.5L707.5 497.8"/>
<path d="M706 489.5L704.5 494.5" style="stroke-width:1.5"/>
</g>
<g id="fr">
<path d="M1.6 507.5L8.8 491.2L11 495.3L35.8 486.7L40.4 501.6L16.2 510.2L17.8 515.4Z" fill="#000"/>
<text transform="translate(43.2 499.6) rotate(-19.5)" style="font-weight:bold;font-size:19.5px;fill:#000;stroke:#000;stroke-width:0.7" x="0" y="0">FR</text>
<circle cx="70.3" cy="487.4" r="2.2" fill="#000"/>
</g>
<!--E:p11-->
</svg>
</body></html>
